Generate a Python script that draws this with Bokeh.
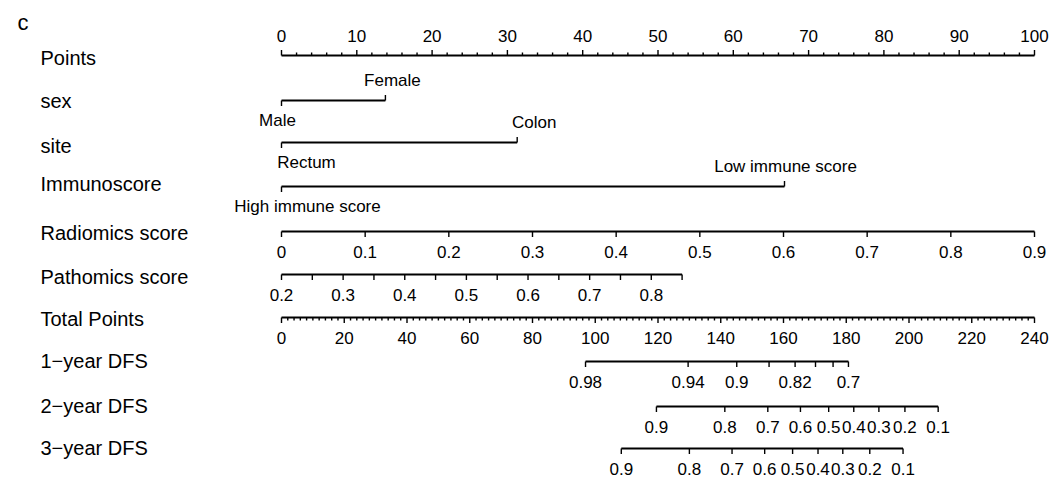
from bokeh.plotting import figure
from bokeh.models import Range1d
from bokeh.core.properties import value
from bokeh.embed import file_html
from bokeh.resources import INLINE

# ---------------- data ----------------
points_major = list(range(0, 101, 10))
points_minor = [v for v in range(0, 101, 2) if v % 10]

sex_levels = ["Male", "Female"]
sex_points = [0.0, 13.8]

site_levels = ["Rectum", "Colon"]
site_points = [0.0, 31.3]

immuno_levels = ["High immune score", "Low immune score"]
immuno_points = [0.0, 66.8]

radiomics_ticks = [0, 0.1, 0.2, 0.3, 0.4, 0.5, 0.6, 0.7, 0.8, 0.9]
radiomics_range = [0.0, 0.9]
radiomics_points_range = [0.0, 100.0]

pathomics_ticks = [0.2, 0.25, 0.3, 0.35, 0.4, 0.45, 0.5, 0.55, 0.6, 0.65, 0.7, 0.75, 0.8, 0.85]
pathomics_labels = [0.2, 0.3, 0.4, 0.5, 0.6, 0.7, 0.8]
pathomics_range = [0.2, 0.85]
pathomics_points_range = [0.0, 53.2]

total_major = list(range(0, 241, 20))
total_minor = [v for v in range(0, 241, 2) if v % 20]
total_max = 240.0

dfs1_values = [0.98, 0.94, 0.9, 0.86, 0.82, 0.78, 0.74, 0.7]
dfs1_total = [96.9, 129.6, 145.1, 155.4, 163.7, 170.2, 175.8, 180.7]
dfs1_labelled = [0.98, 0.94, 0.9, 0.82, 0.7]

dfs2_values = [0.9, 0.8, 0.7, 0.6, 0.5, 0.4, 0.3, 0.2, 0.1]
dfs2_total = [119.5, 141.3, 155.0, 165.4, 174.4, 182.4, 190.4, 198.7, 209.3]

dfs3_values = [0.9, 0.8, 0.7, 0.6, 0.5, 0.4, 0.3, 0.2, 0.1]
dfs3_total = [108.3, 130.0, 143.6, 154.0, 162.9, 171.0, 178.9, 187.5, 198.1]

row_names = ["Points", "sex", "site", "Immunoscore", "Radiomics score",
             "Pathomics score", "Total Points", "1\u2212year DFS", "2\u2212year DFS", "3\u2212year DFS"]

# ---------------- layout / style ----------------
W, H = 1060, 480
X0_PX = 281.0         # px of 0 points
PX_PER_PT = 7.53
row_y = [55, 100, 142, 186, 231, 274, 317, 361, 406, 448]   # px of each row's line
row_label_y = [57, 100, 145, 183, 232, 276, 318, 360, 405, 447]
LABEL_X_PX = 40
FONT = "Liberation Sans"
INK = "#000000"
LW = 1.8
TW = 1.4
MAJ, MIN = 5.5, 3.0
OFF = 20
TICK_FS = "17px"
ROW_FS = "20px"
# horizontal nudges (px) of the level labels, as placed in the reference
level_nudge = {"Male": -4, "Female": 7, "Rectum": 25, "Colon": 17,
               "High immune score": 26, "Low immune score": 1}

p = figure(width=W, height=H, output_backend="svg", toolbar_location=None,
           x_range=Range1d((0 - X0_PX) / PX_PER_PT, (W - X0_PX) / PX_PER_PT),
           y_range=Range1d(H, 0), min_border=0)
p.axis.visible = False
p.grid.visible = False
p.outline_line_color = None
p.background_fill_color = "white"
p.border_fill_color = "white"


def px_to_pts(px):
    return (px - X0_PX) / PX_PER_PT


def fmt(v):
    return f"{v:g}"


def line(y, a, b):
    p.segment(x0=[a], y0=[y], x1=[b], y1=[y], line_width=LW, line_color=INK)


def ticks(y, xs, length, d):
    p.segment(x0=xs, y0=[y] * len(xs), x1=xs, y1=[y + d * length] * len(xs),
              line_width=TW, line_color=INK)


def labels(y, xs, texts, d, off=OFF, dx=0):
    p.text(x=xs, y=[y + d * off] * len(xs), text=texts, text_align="center",
           text_baseline="middle", text_font=value(FONT), text_font_size=TICK_FS,
           text_color=INK, x_offset=dx)


def lin(v, dom, rng):
    return rng[0] + (v - dom[0]) / (dom[1] - dom[0]) * (rng[1] - rng[0])


# Points
y = row_y[0]
line(y, 0, 100)
ticks(y, points_major, MAJ, -1)
ticks(y, points_minor, MIN, -1)
labels(y, points_major, [fmt(v) for v in points_major], -1)

# categorical rows
for y, lev, pts in [(row_y[1], sex_levels, sex_points),
                    (row_y[2], site_levels, site_points),
                    (row_y[3], immuno_levels, immuno_points)]:
    line(y, min(pts), max(pts))
    ticks(y, [pts[0]], MAJ, 1)
    ticks(y, [pts[1]], MAJ, -1)
    labels(y, [pts[0]], [lev[0]], 1, dx=level_nudge[lev[0]])
    labels(y, [pts[1]], [lev[1]], -1, dx=level_nudge[lev[1]])

# Radiomics
y = row_y[4]
rx = [lin(v, radiomics_range, radiomics_points_range) for v in radiomics_ticks]
line(y, rx[0], rx[-1])
ticks(y, rx, MAJ, 1)
labels(y, rx, [fmt(v) for v in radiomics_ticks], 1)

# Pathomics
y = row_y[5]
px_ = [lin(v, pathomics_range, pathomics_points_range) for v in pathomics_ticks]
line(y, px_[0], px_[-1])
ticks(y, px_, MAJ, 1)
lx = [lin(v, pathomics_range, pathomics_points_range) for v in pathomics_labels]
labels(y, lx, [fmt(v) for v in pathomics_labels], 1)

# Total points
y = row_y[6]
tmaj = [v * 100 / total_max for v in total_major]
tmin = [v * 100 / total_max for v in total_minor]
line(y, 0, 100)
ticks(y, tmaj, MAJ, 1)
ticks(y, tmin, MIN, 1)
labels(y, tmaj, [fmt(v) for v in total_major], 1)

# DFS rows
for y, vals, tot, lab in [(row_y[7], dfs1_values, dfs1_total, dfs1_labelled),
                          (row_y[8], dfs2_values, dfs2_total, dfs2_values),
                          (row_y[9], dfs3_values, dfs3_total, dfs3_values)]:
    xs = [t * 100 / total_max for t in tot]
    line(y, min(xs), max(xs))
    ticks(y, xs, MAJ, 1)
    lxs = [xs[vals.index(v)] for v in lab]
    labels(y, lxs, [fmt(v) for v in lab], 1)

# row names
p.text(x=[px_to_pts(LABEL_X_PX)] * len(row_names), y=row_label_y, text=row_names,
       text_align="left", text_baseline="middle", text_font=value(FONT),
       text_font_size=ROW_FS, text_color=INK)

# panel letter
p.text(x=[px_to_pts(17)], y=[22], text=["c"], text_align="left", text_baseline="middle",
       text_font=value(FONT), text_font_size="22px", text_color=INK)

open("out.html", "w").write(file_html(p, INLINE))
